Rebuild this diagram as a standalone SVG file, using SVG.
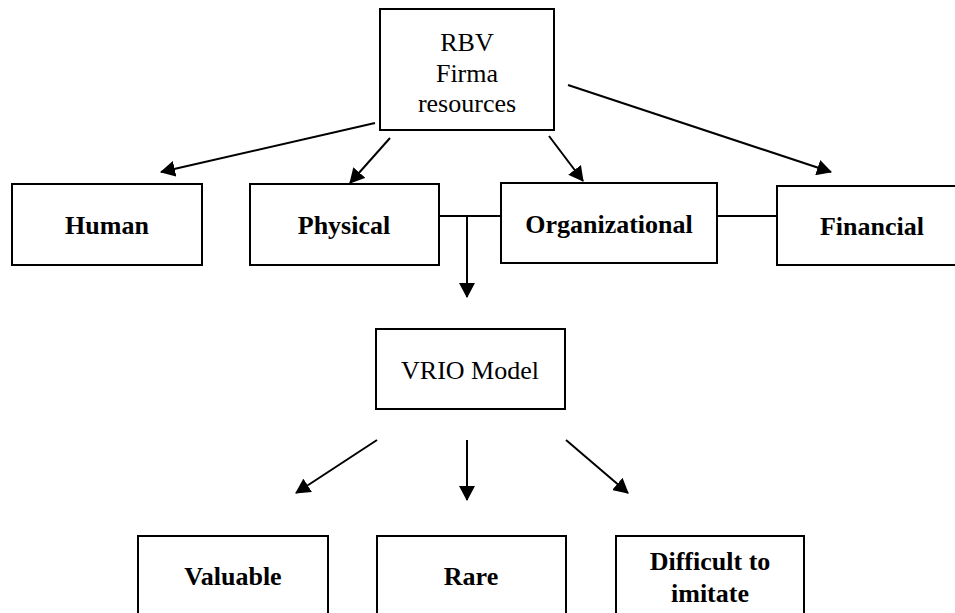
<svg xmlns="http://www.w3.org/2000/svg" width="955" height="613" viewBox="0 0 955 613">
<defs>
<marker id="ah" markerWidth="16" markerHeight="16" refX="14" refY="8" orient="auto" markerUnits="userSpaceOnUse">
<path d="M0,0 L15,8 L0,16 Z" fill="#000"/>
</marker>
<style>
.box{fill:#fff;stroke:#000;stroke-width:2}
.t{font-family:"Liberation Serif","Times New Roman",serif;font-size:26px;text-anchor:middle;fill:#000}
.b{font-weight:bold}
.c{stroke:#000;stroke-width:2;fill:none}
.a{marker-end:url(#ah)}
</style>
</defs>
<rect width="955" height="613" fill="#fff"/>
<g id="connectors">
<line class="c a" x1="375" y1="123" x2="161" y2="172"/>
<line class="c a" x1="390" y1="138" x2="350" y2="183"/>
<line class="c a" x1="549" y1="136" x2="583" y2="181"/>
<line class="c a" x1="568" y1="85" x2="831" y2="172"/>
<line class="c" x1="439" y1="216" x2="501" y2="216"/>
<line class="c" x1="717" y1="216" x2="777" y2="216"/>
<line class="c a" x1="467" y1="216" x2="467" y2="297"/>
<line class="c a" x1="377" y1="440" x2="296" y2="493"/>
<line class="c a" x1="467" y1="440" x2="467" y2="500"/>
<line class="c a" x1="566" y1="440" x2="628" y2="493"/>
</g>
<g id="rbv">
<rect class="box" x="380" y="9" width="174" height="121"/>
<text class="t" x="467" y="51">RBV</text>
<text class="t" x="467" y="82">Firma</text>
<text class="t" x="467" y="112">resources</text>
</g>
<g id="human">
<rect class="box" x="12" y="184" width="190" height="81"/>
<text class="t b" x="107" y="234">Human</text>
</g>
<g id="physical">
<rect class="box" x="250" y="184" width="189" height="81"/>
<text class="t b" x="344" y="234">Physical</text>
</g>
<g id="organizational">
<rect class="box" x="501" y="183" width="216" height="80"/>
<text class="t b" x="609" y="233">Organizational</text>
</g>
<g id="financial">
<rect class="box" x="777" y="186" width="190" height="79"/>
<text class="t b" x="872" y="235">Financial</text>
</g>
<g id="vrio">
<rect class="box" x="376" y="329" width="189" height="80"/>
<text class="t" x="470" y="379">VRIO Model</text>
</g>
<g id="valuable">
<rect class="box" x="138" y="536" width="190" height="90"/>
<text class="t b" x="233" y="585">Valuable</text>
</g>
<g id="rare">
<rect class="box" x="377" y="536" width="189" height="90"/>
<text class="t b" x="471" y="585">Rare</text>
</g>
<g id="difficult">
<rect class="box" x="616" y="536" width="188" height="90"/>
<text class="t b" x="710" y="570">Difficult to</text>
<text class="t b" x="710" y="602">imitate</text>
</g>
</svg>
